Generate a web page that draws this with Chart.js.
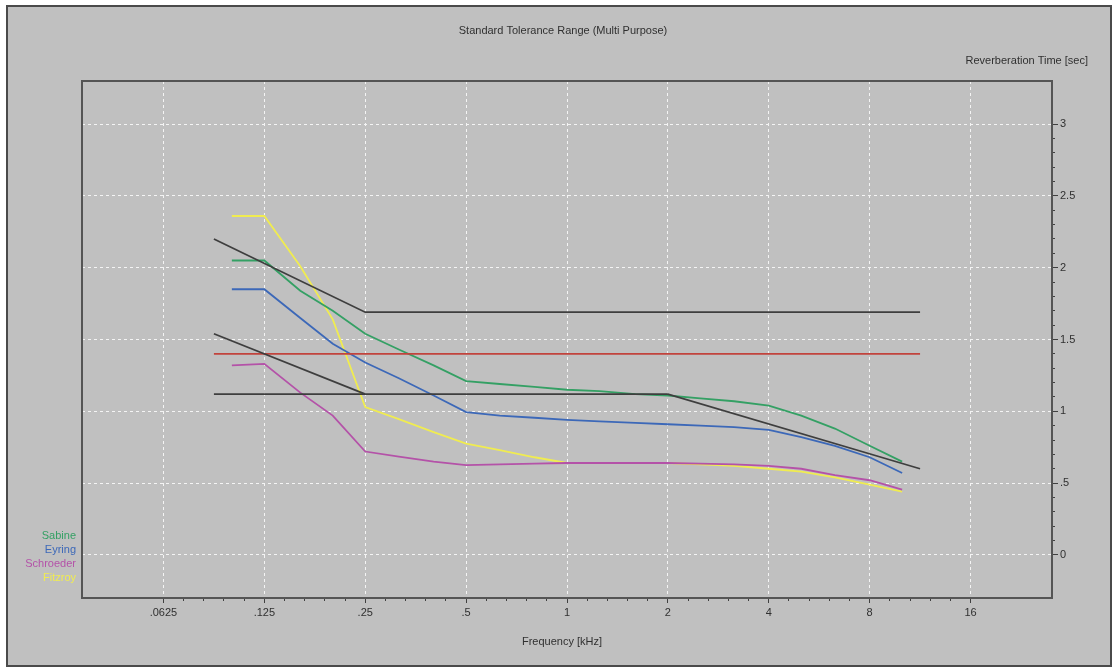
<!DOCTYPE html>
<html>
<head>
<meta charset="utf-8">
<script src="https://cdn.jsdelivr.net/npm/chart.js@4.4.0/dist/chart.umd.min.js"></script>
<style>
  html, body { margin: 0; padding: 0; background: #ffffff; }
  canvas { display: block; }
</style>
</head>
<body>
<canvas id="rtChart" width="1114" height="669"></canvas>
<script>
// Frequencies (kHz) of the 1/3 octave bands
const freqs = [0.1, 0.125, 0.16, 0.2, 0.25, 0.315, 0.4, 0.5, 0.63, 0.8, 1, 1.25, 1.6, 2, 2.5, 3.15, 4, 5, 6.3, 8, 10];

// Reverberation time (sec) per formula
const sabine    = [2.05, 2.05, 1.84, 1.70, 1.54, 1.43, 1.32, 1.21, 1.19, 1.17, 1.15, 1.14, 1.12, 1.11, 1.09, 1.07, 1.04, 0.97, 0.88, 0.76, 0.65];
const eyring    = [1.85, 1.85, 1.65, 1.47, 1.34, 1.23, 1.11, 0.995, 0.97, 0.955, 0.94, 0.93, 0.92, 0.91, 0.90, 0.89, 0.87, 0.82, 0.76, 0.68, 0.57];
const schroeder = [1.32, 1.33, 1.13, 0.97, 0.72, 0.685, 0.65, 0.625, 0.63, 0.635, 0.64, 0.64, 0.64, 0.64, 0.635, 0.63, 0.62, 0.60, 0.555, 0.52, 0.455];
const fitzroy   = [2.36, 2.36, 2.01, 1.64, 1.03, 0.945, 0.855, 0.775, 0.73, 0.68, 0.64, 0.64, 0.64, 0.64, 0.63, 0.62, 0.60, 0.58, 0.54, 0.49, 0.44];

const seriesNames  = ['Sabine', 'Eyring', 'Schroeder', 'Fitzroy'];
const seriesColors = ['#34a064', '#3c68b8', '#b452a8', '#f0ec50'];

// Tolerance range lines: frequency / value pairs
const upperFreqs = [0.0884, 0.25, 11.31];
const upperVals  = [2.20, 1.69, 1.69];
const slopeFreqs = [0.0884, 0.25];
const slopeVals  = [1.54, 1.12];
const lowerFreqs = [0.0884, 2, 11.31];
const lowerVals  = [1.12, 1.12, 0.60];
const targetFreqs = [0.0884, 11.31];
const targetVals  = [1.40, 1.40];

// Axis ticks
const xTickValues = [0.0625, 0.125, 0.25, 0.5, 1, 2, 4, 8, 16];
const xTickLabels = ['.0625', '.125', '.25', '.5', '1', '2', '4', '8', '16'];
const yTickValues = [0, 0.5, 1, 1.5, 2, 2.5, 3];
const yTickLabels = ['0', '.5', '1', '1.5', '2', '2.5', '3'];

const chartTitle = 'Standard Tolerance Range (Multi Purpose)';
const yTitle = 'Reverberation Time [sec]';
const xTitle = 'Frequency [kHz]';

const FONT = '"Liberation Sans", Arial, sans-serif';

function pts(xs, ys) {
    return xs.map((x, i) => ({ x: x, y: ys[i] }));
}

function findIndex(list, v) {
    return list.findIndex(t => Math.abs(t - v) < 1e-6);
}

// minor ticks: 4 per octave on x, every 0.1 on y
const xAllTicks = [];
for (let k = 0; k < xTickValues.length; k++) {
    xAllTicks.push(xTickValues[k]);
    if (k < xTickValues.length - 1) {
        for (let j = 1; j < 5; j++) xAllTicks.push(xTickValues[k] * Math.pow(2, j / 5));
    }
}
const yAllTicks = [];
for (let i = 0; i <= 30; i++) yAllTicks.push(i / 10);

const framePlugin = {
    id: 'frame',
    beforeDraw(chart) {
        const ctx = chart.ctx;
        ctx.save();
        ctx.fillStyle = '#ffffff';
        ctx.fillRect(0, 0, chart.width, chart.height);
        ctx.fillStyle = '#c0c0c0';
        ctx.fillRect(6, 5, 1106, 662);
        ctx.strokeStyle = '#4a4a4a';
        ctx.lineWidth = 2;
        ctx.strokeRect(7, 6, 1104, 660);
        ctx.restore();
    },
    afterDraw(chart) {
        const ctx = chart.ctx;
        const a = chart.chartArea;
        ctx.save();
        ctx.strokeStyle = '#555555';
        ctx.lineWidth = 2;
        ctx.strokeRect(a.left, a.top, a.right - a.left, a.bottom - a.top);

        ctx.font = '11px ' + FONT;
        ctx.fillStyle = '#303030';
        ctx.textBaseline = 'middle';
        ctx.textAlign = 'center';
        ctx.fillText(chartTitle, 563, 31);
        ctx.fillText(xTitle, 562, 642);
        ctx.textAlign = 'right';
        ctx.fillText(yTitle, 1088, 61);

        // legend, coloured names only
        seriesNames.forEach((name, i) => {
            ctx.fillStyle = seriesColors[i];
            ctx.fillText(name, 76, 535.5 + i * 14.2);
        });
        ctx.restore();
    }
};

const lineStyle = { pointRadius: 0, borderWidth: 1.8, tension: 0, fill: false };

const ctx = document.getElementById('rtChart').getContext('2d');
new Chart(ctx, {
    type: 'line',
    data: {
        datasets: [
            Object.assign({ label: 'upper', data: pts(upperFreqs, upperVals), borderColor: '#3e3e3e' }, lineStyle),
            Object.assign({ label: 'slope', data: pts(slopeFreqs, slopeVals), borderColor: '#3e3e3e' }, lineStyle),
            Object.assign({ label: 'lower', data: pts(lowerFreqs, lowerVals), borderColor: '#3e3e3e' }, lineStyle),
            Object.assign({ label: 'target', data: pts(targetFreqs, targetVals), borderColor: '#c2433c' }, lineStyle),
            Object.assign({ label: seriesNames[0], data: pts(freqs, sabine), borderColor: seriesColors[0] }, lineStyle),
            Object.assign({ label: seriesNames[1], data: pts(freqs, eyring), borderColor: seriesColors[1] }, lineStyle),
            Object.assign({ label: seriesNames[2], data: pts(freqs, schroeder), borderColor: seriesColors[2] }, lineStyle),
            Object.assign({ label: seriesNames[3], data: pts(freqs, fitzroy), borderColor: seriesColors[3] }, lineStyle)
        ]
    },
    options: {
        responsive: false,
        animation: false,
        devicePixelRatio: 1,
        layout: { padding: { left: 82, top: 81, right: 0, bottom: 0 } },
        plugins: {
            legend: { display: false },
            tooltip: { enabled: false },
            title: { display: false }
        },
        scales: {
            x: {
                type: 'logarithmic',
                position: 'bottom',
                min: 1 / 28,
                max: 28,
                bounds: 'data',
                afterBuildTicks: (axis) => {
                    axis.ticks = xAllTicks.map(v => ({ value: v }));
                },
                afterFit: (axis) => { axis.height = 71; },
                ticks: {
                    autoSkip: false,
                    maxRotation: 0,
                    minRotation: 0,
                    padding: 3,
                    color: '#303030',
                    font: { family: FONT, size: 11 },
                    callback: (v) => {
                        const i = findIndex(xTickValues, v);
                        return i >= 0 ? xTickLabels[i] : '';
                    }
                },
                grid: {
                    color: (c) => findIndex(xTickValues, c.tick.value) >= 0 ? '#f4f4f4' : 'rgba(0,0,0,0)',
                    lineWidth: 1,
                    tickLength: 5,
                    tickColor: '#404040',
                    tickBorderDash: (c) => findIndex(xTickValues, c.tick.value) >= 0 ? [] : [3, 20]
                },
                border: { display: false, dash: [3, 3] }
            },
            y: {
                type: 'linear',
                position: 'right',
                min: -0.3,
                max: 3.3,
                bounds: 'data',
                afterBuildTicks: (axis) => {
                    axis.ticks = yAllTicks.map(v => ({ value: v }));
                },
                afterFit: (axis) => { axis.width = 62; },
                ticks: {
                    autoSkip: false,
                    padding: 2,
                    color: '#303030',
                    font: { family: FONT, size: 11 },
                    callback: (v) => {
                        const i = findIndex(yTickValues, v);
                        return i >= 0 ? yTickLabels[i] : '';
                    }
                },
                grid: {
                    color: (c) => findIndex(yTickValues, c.tick.value) >= 0 ? '#f4f4f4' : 'rgba(0,0,0,0)',
                    lineWidth: 1,
                    tickLength: 6,
                    tickColor: '#404040',
                    tickBorderDash: (c) => findIndex(yTickValues, c.tick.value) >= 0 ? [] : [3, 20]
                },
                border: { display: false, dash: [3, 3] }
            }
        }
    },
    plugins: [framePlugin]
});
</script>
</body>
</html>
